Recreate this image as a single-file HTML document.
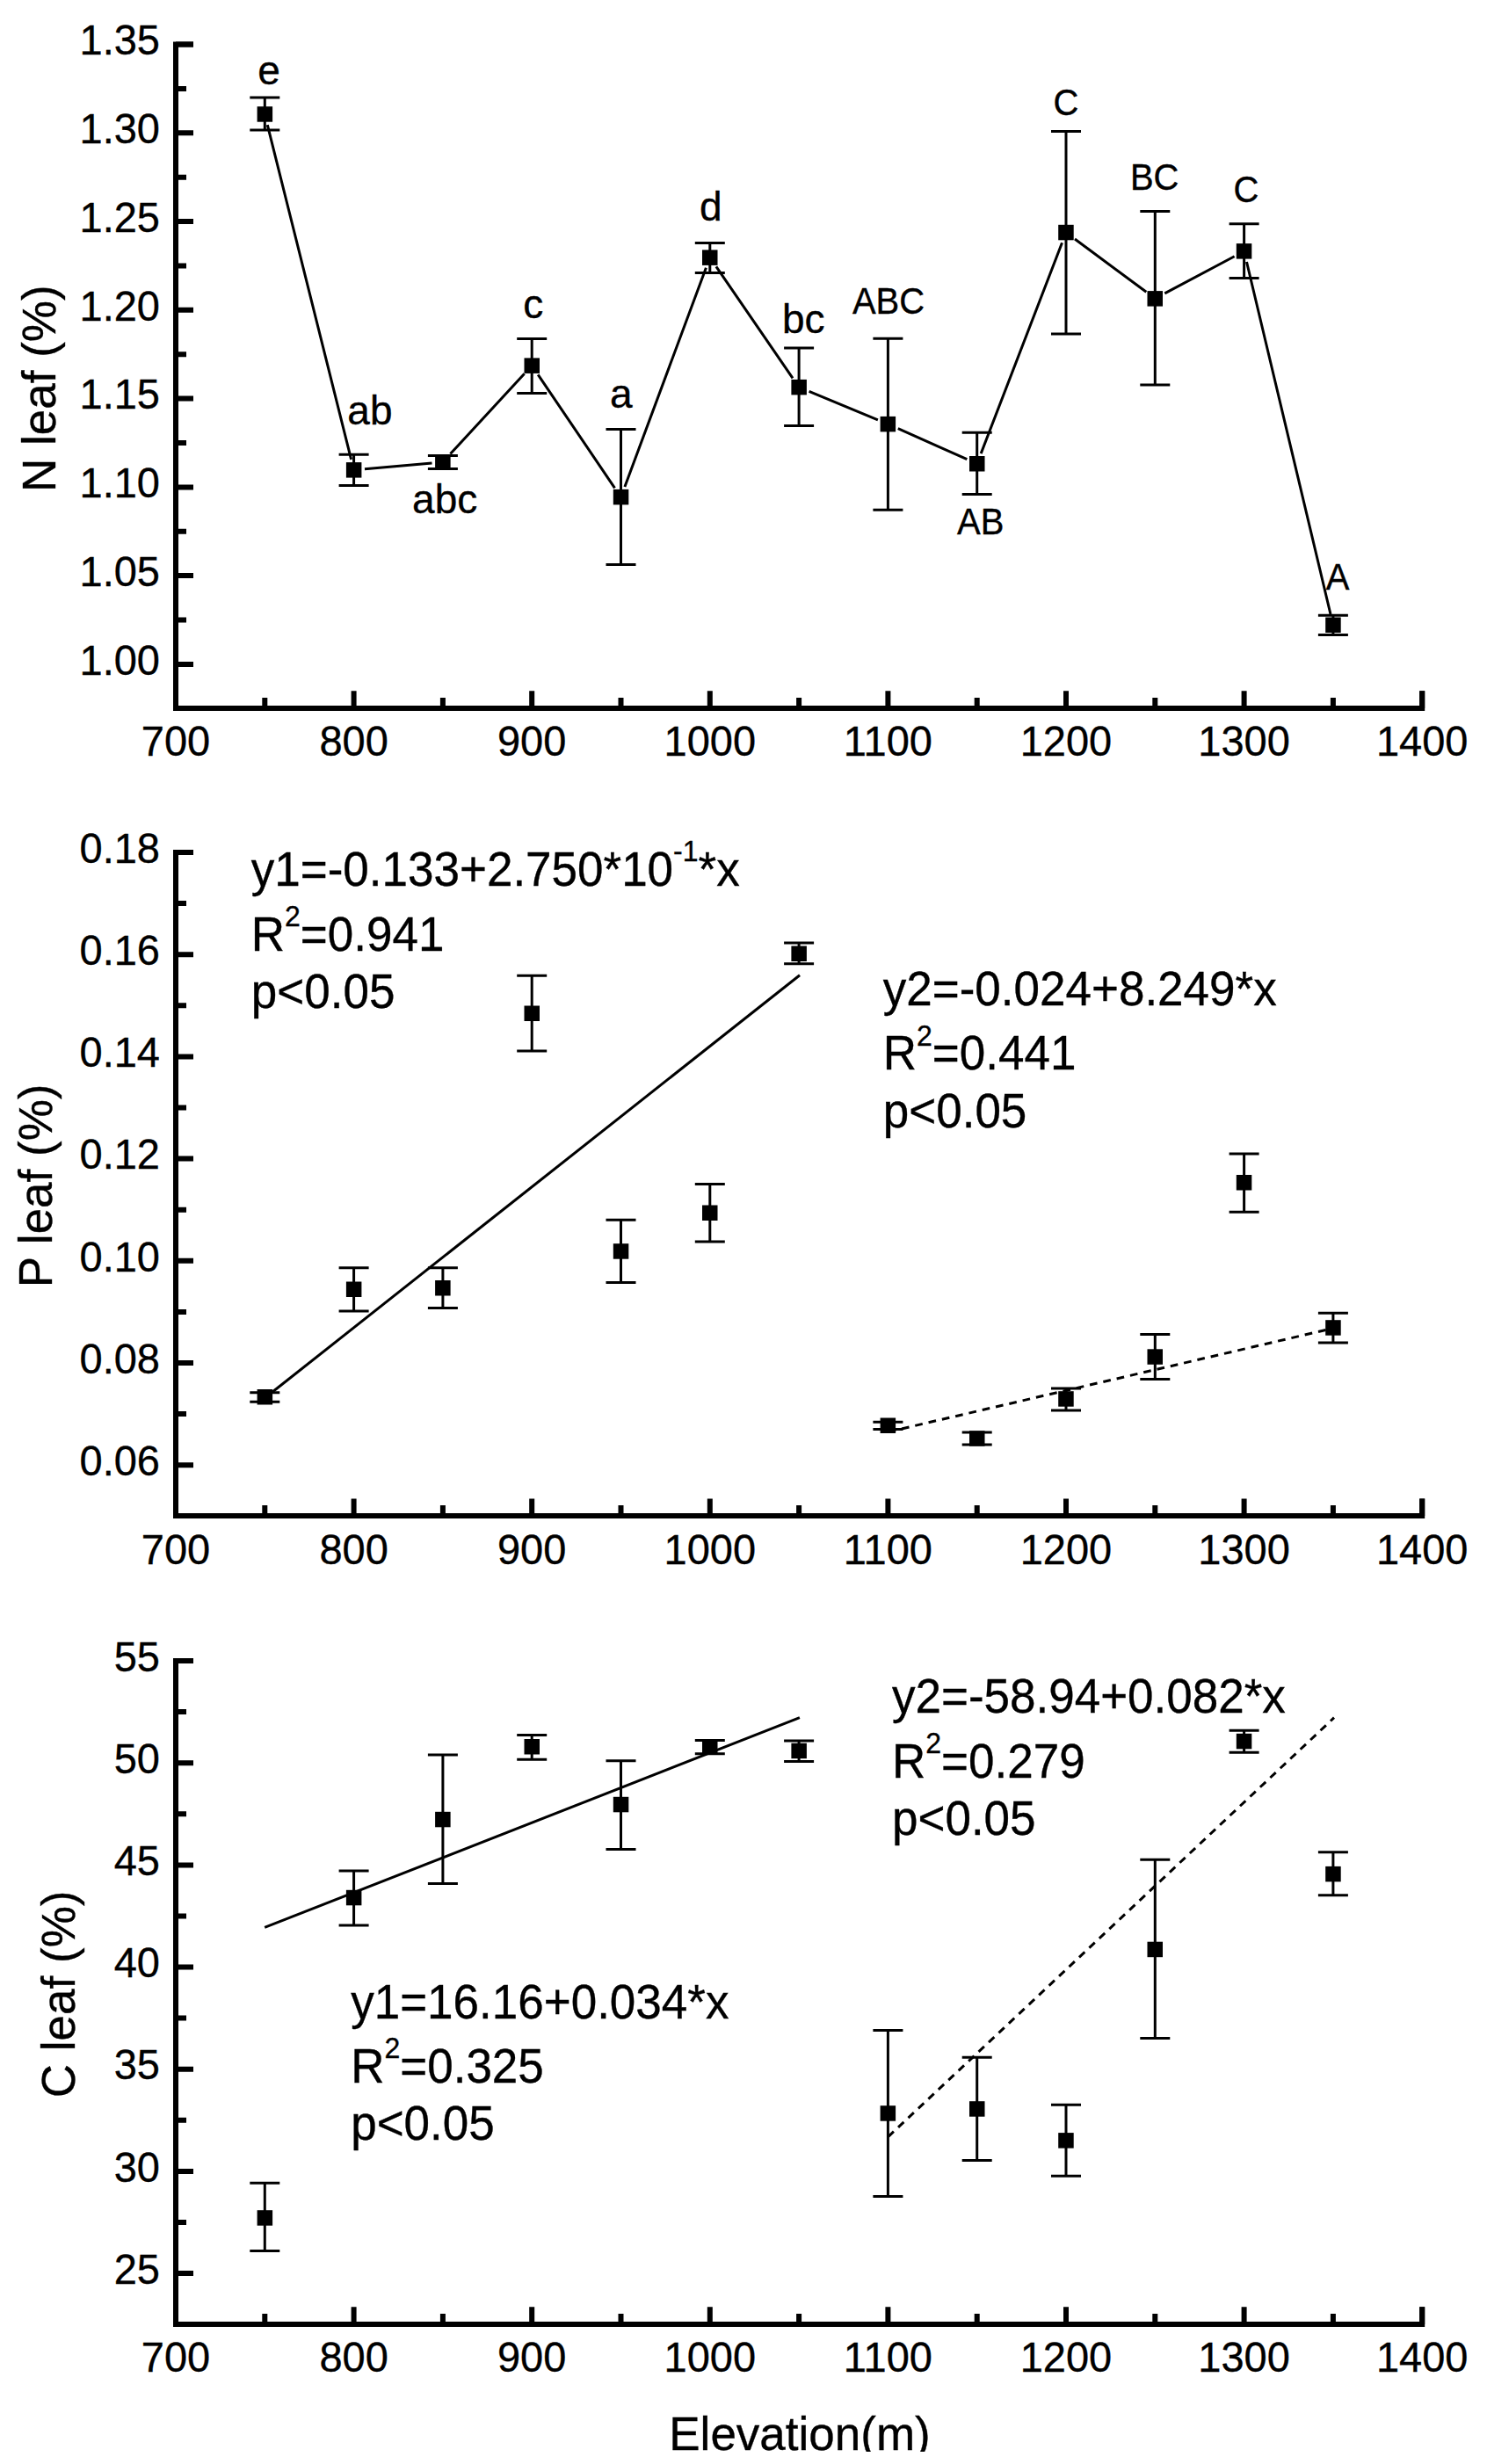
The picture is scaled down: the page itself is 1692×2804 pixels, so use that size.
<!DOCTYPE html><html><head><meta charset="utf-8"><title>Leaf N, P, C vs Elevation</title>
<style>html,body{margin:0;padding:0;background:#fff}svg{display:block}text{font-family:"Liberation Sans",sans-serif;fill:#000;stroke:#000;stroke-width:0.35px}</style></head><body>
<svg width="1692" height="2804" viewBox="0 0 1692 2804">
<rect width="1692" height="2804" fill="#fff"/>
<g fill="none" stroke="#000" stroke-width="6.0" stroke-linecap="butt" stroke-linejoin="miter">
<path d="M220,50.5 L200.0,50.5 L200.0,805.9 L1618.2,805.9 L1618.2,786.3"/>
<path d="M200.0,50.5H220M200.0,151.3H220M200.0,252.0H220M200.0,352.8H220M200.0,453.6H220M200.0,554.4H220M200.0,655.1H220M200.0,755.9H220M200.0,100.9H212M200.0,201.7H212M200.0,302.4H212M200.0,403.2H212M200.0,504.0H212M200.0,604.7H212M200.0,705.5H212M200.0,805.9V786.3M402.6,805.9V786.3M605.2,805.9V786.3M807.8,805.9V786.3M1010.4,805.9V786.3M1213.0,805.9V786.3M1415.6,805.9V786.3M1618.2,805.9V786.3M301.3,805.9V793.9M503.9,805.9V793.9M706.5,805.9V793.9M909.1,805.9V793.9M1111.7,805.9V793.9M1314.3,805.9V793.9M1516.9,805.9V793.9"/>
</g>
<g font-size="47" text-anchor="end">
<text x="182" y="62.3" transform="matrix(1 0 0 1.04 0 -2.492)">1.35</text>
<text x="182" y="163.1" transform="matrix(1 0 0 1.04 0 -6.523)">1.30</text>
<text x="182" y="263.8" transform="matrix(1 0 0 1.04 0 -10.554)">1.25</text>
<text x="182" y="364.6" transform="matrix(1 0 0 1.04 0 -14.585)">1.20</text>
<text x="182" y="465.4" transform="matrix(1 0 0 1.04 0 -18.616)">1.15</text>
<text x="182" y="566.2" transform="matrix(1 0 0 1.04 0 -22.646)">1.10</text>
<text x="182" y="666.9" transform="matrix(1 0 0 1.04 0 -26.677)">1.05</text>
<text x="182" y="767.7" transform="matrix(1 0 0 1.04 0 -30.708)">1.00</text>
</g>
<g font-size="47" text-anchor="middle">
<text x="200.0" y="860.5" transform="matrix(1 0 0 1.04 0 -34.420)">700</text>
<text x="402.6" y="860.5" transform="matrix(1 0 0 1.04 0 -34.420)">800</text>
<text x="605.2" y="860.5" transform="matrix(1 0 0 1.04 0 -34.420)">900</text>
<text x="807.8" y="860.5" transform="matrix(1 0 0 1.04 0 -34.420)">1000</text>
<text x="1010.4" y="860.5" transform="matrix(1 0 0 1.04 0 -34.420)">1100</text>
<text x="1213.0" y="860.5" transform="matrix(1 0 0 1.04 0 -34.420)">1200</text>
<text x="1415.6" y="860.5" transform="matrix(1 0 0 1.04 0 -34.420)">1300</text>
<text x="1618.2" y="860.5" transform="matrix(1 0 0 1.04 0 -34.420)">1400</text>
</g>
<path d="M304.3,142.1L399.6,522.8M415.0,533.8L491.5,526.9M512.4,516.6L596.7,425.3M612.2,426.4L699.5,555.3M710.9,553.9L803.4,304.8M814.9,303.4L902.0,430.3M920.6,445.4L998.9,477.8M1021.8,487.7L1100.3,522.7M1116.2,516.1L1208.5,276.2M1223.0,272.0L1304.3,332.3M1325.3,333.9L1404.6,291.7M1418.5,298.0L1514.0,699.0" fill="none" stroke="#000" stroke-width="3"/>
<path d="M301.3,111.0V148.0M284.3,111.0h34M284.3,148.0h34M402.6,517.2V552.5M385.6,517.2h34M385.6,552.5h34M503.9,518.5V533.4M486.9,518.5h34M486.9,533.4h34M605.2,385.6V447.4M588.2,385.6h34M588.2,447.4h34M706.5,488.6V642.6M689.5,488.6h34M689.5,642.6h34M807.8,276.5V310.4M790.8,276.5h34M790.8,310.4h34M909.1,395.9V484.4M892.1,395.9h34M892.1,484.4h34M1010.4,385.3V580.3M993.4,385.3h34M993.4,580.3h34M1111.7,492.2V562.4M1094.7,492.2h34M1094.7,562.4h34M1213.0,149.6V380.1M1196.0,149.6h34M1196.0,380.1h34M1314.3,240.4V438.1M1297.3,240.4h34M1297.3,438.1h34M1415.6,254.7V316.5M1398.6,254.7h34M1398.6,316.5h34M1516.9,700.3V722.4M1499.9,700.3h34M1499.9,722.4h34" fill="none" stroke="#000" stroke-width="3.0"/>
<rect x="292.6" y="121.2" width="17.5" height="17.5" fill="#000"/>
<rect x="393.9" y="526.1" width="17.5" height="17.5" fill="#000"/>
<rect x="495.1" y="517.0" width="17.5" height="17.5" fill="#000"/>
<rect x="596.5" y="407.4" width="17.5" height="17.5" fill="#000"/>
<rect x="697.8" y="556.9" width="17.5" height="17.5" fill="#000"/>
<rect x="799.0" y="284.4" width="17.5" height="17.5" fill="#000"/>
<rect x="900.4" y="431.9" width="17.5" height="17.5" fill="#000"/>
<rect x="1001.6" y="473.9" width="17.5" height="17.5" fill="#000"/>
<rect x="1103.0" y="519.0" width="17.5" height="17.5" fill="#000"/>
<rect x="1204.2" y="255.8" width="17.5" height="17.5" fill="#000"/>
<rect x="1305.5" y="331.1" width="17.5" height="17.5" fill="#000"/>
<rect x="1406.8" y="277.1" width="17.5" height="17.5" fill="#000"/>
<rect x="1508.2" y="702.5" width="17.5" height="17.5" fill="#000"/>
<g text-anchor="middle">
<text x="306" y="96.3" font-size="46" >e</text>
<text x="420.9" y="482.6" font-size="46" >ab</text>
<text x="506.2" y="584.3" font-size="46" >abc</text>
<text x="606.7" y="362.1" font-size="46" >c</text>
<text x="706.9" y="464.2" font-size="46" >a</text>
<text x="808.9" y="250.7" font-size="46" >d</text>
<text x="914.3" y="379.2" font-size="46" >bc</text>
<text x="1011" y="356.6" font-size="40" transform="matrix(1 0 0 1.04 0 -14.264)">ABC</text>
<text x="1115.7" y="608.2" font-size="40" transform="matrix(1 0 0 1.04 0 -24.328)">AB</text>
<text x="1212.9" y="130.8" font-size="40" transform="matrix(1 0 0 1.04 0 -5.232)">C</text>
<text x="1313.7" y="215.9" font-size="40" transform="matrix(1 0 0 1.04 0 -8.636)">BC</text>
<text x="1418" y="230.2" font-size="40" transform="matrix(1 0 0 1.04 0 -9.208)">C</text>
<text x="1522" y="671.5" font-size="40" transform="matrix(1 0 0 1.04 0 -26.860)">A</text>
</g>
<text font-size="53" text-anchor="middle" transform="translate(62.9,442.2) rotate(-90)">N leaf (%)</text>
<g fill="none" stroke="#000" stroke-width="6.0" stroke-linecap="butt" stroke-linejoin="miter">
<path d="M220,970.0 L200.0,970.0 L200.0,1725.0 L1618.2,1725.0 L1618.2,1705.4"/>
<path d="M200.0,970.0H220M200.0,1086.2H220M200.0,1202.4H220M200.0,1318.6H220M200.0,1434.8H220M200.0,1551.0H220M200.0,1667.2H220M200.0,1028.1H212M200.0,1144.3H212M200.0,1260.5H212M200.0,1376.7H212M200.0,1492.9H212M200.0,1609.1H212M200.0,1725.0V1705.4M402.6,1725.0V1705.4M605.2,1725.0V1705.4M807.8,1725.0V1705.4M1010.4,1725.0V1705.4M1213.0,1725.0V1705.4M1415.6,1725.0V1705.4M1618.2,1725.0V1705.4M301.3,1725.0V1713.0M503.9,1725.0V1713.0M706.5,1725.0V1713.0M909.1,1725.0V1713.0M1111.7,1725.0V1713.0M1314.3,1725.0V1713.0M1516.9,1725.0V1713.0"/>
</g>
<g font-size="47" text-anchor="end">
<text x="182" y="981.8" transform="matrix(1 0 0 1.04 0 -39.272)">0.18</text>
<text x="182" y="1098.0" transform="matrix(1 0 0 1.04 0 -43.920)">0.16</text>
<text x="182" y="1214.2" transform="matrix(1 0 0 1.04 0 -48.568)">0.14</text>
<text x="182" y="1330.4" transform="matrix(1 0 0 1.04 0 -53.216)">0.12</text>
<text x="182" y="1446.6" transform="matrix(1 0 0 1.04 0 -57.864)">0.10</text>
<text x="182" y="1562.8" transform="matrix(1 0 0 1.04 0 -62.512)">0.08</text>
<text x="182" y="1679.0" transform="matrix(1 0 0 1.04 0 -67.160)">0.06</text>
</g>
<g font-size="47" text-anchor="middle">
<text x="200.0" y="1779.6" transform="matrix(1 0 0 1.04 0 -71.184)">700</text>
<text x="402.6" y="1779.6" transform="matrix(1 0 0 1.04 0 -71.184)">800</text>
<text x="605.2" y="1779.6" transform="matrix(1 0 0 1.04 0 -71.184)">900</text>
<text x="807.8" y="1779.6" transform="matrix(1 0 0 1.04 0 -71.184)">1000</text>
<text x="1010.4" y="1779.6" transform="matrix(1 0 0 1.04 0 -71.184)">1100</text>
<text x="1213.0" y="1779.6" transform="matrix(1 0 0 1.04 0 -71.184)">1200</text>
<text x="1415.6" y="1779.6" transform="matrix(1 0 0 1.04 0 -71.184)">1300</text>
<text x="1618.2" y="1779.6" transform="matrix(1 0 0 1.04 0 -71.184)">1400</text>
</g>
<path d="M301.8,1590.5L910,1109.8" stroke="#000" stroke-width="3" fill="none"/>
<path d="M1010.7,1629.5L1517,1511.5" stroke="#000" stroke-width="3" fill="none" stroke-dasharray="8.7 7"/>
<path d="M301.3,1584.8V1595.3M284.3,1584.8h34M284.3,1595.3h34M402.6,1442.8V1492.1M385.6,1442.8h34M385.6,1492.1h34M503.9,1442.8V1488.4M486.9,1442.8h34M486.9,1488.4h34M605.2,1110.3V1196.1M588.2,1110.3h34M588.2,1196.1h34M706.5,1388.2V1459.4M689.5,1388.2h34M689.5,1459.4h34M807.8,1347.5V1413.0M790.8,1347.5h34M790.8,1413.0h34M909.1,1072.9V1096.7M892.1,1072.9h34M892.1,1096.7h34M1010.4,1618.2V1626.6M993.4,1618.2h34M993.4,1626.6h34M1111.7,1630.0V1644.1M1094.7,1630.0h34M1094.7,1644.1h34M1213.0,1580.1V1605.0M1196.0,1580.1h34M1196.0,1605.0h34M1314.3,1518.5V1569.4M1297.3,1518.5h34M1297.3,1569.4h34M1415.6,1312.9V1379.2M1398.6,1312.9h34M1398.6,1379.2h34M1516.9,1494.3V1528.1M1499.9,1494.3h34M1499.9,1528.1h34" fill="none" stroke="#000" stroke-width="3.0"/>
<rect x="292.6" y="1581.0" width="17.5" height="17.5" fill="#000"/>
<rect x="393.9" y="1458.5" width="17.5" height="17.5" fill="#000"/>
<rect x="495.1" y="1457.0" width="17.5" height="17.5" fill="#000"/>
<rect x="596.5" y="1144.5" width="17.5" height="17.5" fill="#000"/>
<rect x="697.8" y="1415.2" width="17.5" height="17.5" fill="#000"/>
<rect x="799.0" y="1371.5" width="17.5" height="17.5" fill="#000"/>
<rect x="900.4" y="1076.5" width="17.5" height="17.5" fill="#000"/>
<rect x="1001.6" y="1613.5" width="17.5" height="17.5" fill="#000"/>
<rect x="1103.0" y="1628.2" width="17.5" height="17.5" fill="#000"/>
<rect x="1204.2" y="1583.2" width="17.5" height="17.5" fill="#000"/>
<rect x="1305.5" y="1535.3" width="17.5" height="17.5" fill="#000"/>
<rect x="1406.8" y="1337.0" width="17.5" height="17.5" fill="#000"/>
<rect x="1508.2" y="1502.2" width="17.5" height="17.5" fill="#000"/>
<g font-size="53">
<text x="285.8" y="1007.6" transform="matrix(1 0 0 1.04 0 -40.304)">y1=-0.133+2.750*10<tspan font-size="32" dy="-26.4">-1</tspan><tspan dy="26.4">*x</tspan></text>
<text x="285.8" y="1081.8" transform="matrix(1 0 0 1.04 0 -43.272)">R<tspan font-size="32" dy="-26.4">2</tspan><tspan dy="26.4">=0.941</tspan></text>
<text x="285.8" y="1146.7" transform="matrix(1 0 0 1.04 0 -45.868)">p&lt;0.05</text>
</g>
<g font-size="53">
<text x="1004.8" y="1144.4" transform="matrix(1 0 0 1.04 0 -45.776)">y2=-0.024+8.249*x</text>
<text x="1004.8" y="1217.4" transform="matrix(1 0 0 1.04 0 -48.696)">R<tspan font-size="32" dy="-26.4">2</tspan><tspan dy="26.4">=0.441</tspan></text>
<text x="1004.8" y="1283" transform="matrix(1 0 0 1.04 0 -51.320)">p&lt;0.05</text>
</g>
<text font-size="53" text-anchor="middle" transform="translate(58.8,1349.4) rotate(-90)">P leaf (%)</text>
<g fill="none" stroke="#000" stroke-width="6.0" stroke-linecap="butt" stroke-linejoin="miter">
<path d="M220,1890.0 L200.0,1890.0 L200.0,2644.9 L1618.2,2644.9 L1618.2,2625.3"/>
<path d="M200.0,1890.0H220M200.0,2006.2H220M200.0,2122.4H220M200.0,2238.5H220M200.0,2354.7H220M200.0,2470.9H220M200.0,2587.1H220M200.0,1948.1H212M200.0,2064.3H212M200.0,2180.5H212M200.0,2296.6H212M200.0,2412.8H212M200.0,2529.0H212M200.0,2644.9V2625.3M402.6,2644.9V2625.3M605.2,2644.9V2625.3M807.8,2644.9V2625.3M1010.4,2644.9V2625.3M1213.0,2644.9V2625.3M1415.6,2644.9V2625.3M1618.2,2644.9V2625.3M301.3,2644.9V2632.9M503.9,2644.9V2632.9M706.5,2644.9V2632.9M909.1,2644.9V2632.9M1111.7,2644.9V2632.9M1314.3,2644.9V2632.9M1516.9,2644.9V2632.9"/>
</g>
<g font-size="47" text-anchor="end">
<text x="182" y="1901.8" transform="matrix(1 0 0 1.04 0 -76.072)">55</text>
<text x="182" y="2018.0" transform="matrix(1 0 0 1.04 0 -80.719)">50</text>
<text x="182" y="2134.2" transform="matrix(1 0 0 1.04 0 -85.366)">45</text>
<text x="182" y="2250.3" transform="matrix(1 0 0 1.04 0 -90.014)">40</text>
<text x="182" y="2366.5" transform="matrix(1 0 0 1.04 0 -94.661)">35</text>
<text x="182" y="2482.7" transform="matrix(1 0 0 1.04 0 -99.309)">30</text>
<text x="182" y="2598.9" transform="matrix(1 0 0 1.04 0 -103.956)">25</text>
</g>
<g font-size="47" text-anchor="middle">
<text x="200.0" y="2699.5" transform="matrix(1 0 0 1.04 0 -107.980)">700</text>
<text x="402.6" y="2699.5" transform="matrix(1 0 0 1.04 0 -107.980)">800</text>
<text x="605.2" y="2699.5" transform="matrix(1 0 0 1.04 0 -107.980)">900</text>
<text x="807.8" y="2699.5" transform="matrix(1 0 0 1.04 0 -107.980)">1000</text>
<text x="1010.4" y="2699.5" transform="matrix(1 0 0 1.04 0 -107.980)">1100</text>
<text x="1213.0" y="2699.5" transform="matrix(1 0 0 1.04 0 -107.980)">1200</text>
<text x="1415.6" y="2699.5" transform="matrix(1 0 0 1.04 0 -107.980)">1300</text>
<text x="1618.2" y="2699.5" transform="matrix(1 0 0 1.04 0 -107.980)">1400</text>
</g>
<path d="M301.2,2193.4L909.9,1954.7" stroke="#000" stroke-width="3" fill="none"/>
<path d="M1010.6,2431.6L1518,1954.7" stroke="#000" stroke-width="3" fill="none" stroke-dasharray="8.7 7"/>
<path d="M301.3,2484.3V2561.5M284.3,2484.3h34M284.3,2561.5h34M402.6,2128.9V2191.0M385.6,2128.9h34M385.6,2191.0h34M503.9,1997.1V2143.5M486.9,1997.1h34M486.9,2143.5h34M605.2,1974.5V2002.3M588.2,1974.5h34M588.2,2002.3h34M706.5,2003.7V2104.4M689.5,2003.7h34M689.5,2104.4h34M807.8,1980.6V1995.7M790.8,1980.6h34M790.8,1995.7h34M909.1,1981.1V2004.6M892.1,1981.1h34M892.1,2004.6h34M1010.4,2310.6V2499.4M993.4,2310.6h34M993.4,2499.4h34M1111.7,2341.2V2458.4M1094.7,2341.2h34M1094.7,2458.4h34M1213.0,2395.3V2476.3M1196.0,2395.3h34M1196.0,2476.3h34M1314.3,2116.2V2319.6M1297.3,2116.2h34M1297.3,2319.6h34M1415.6,1969.3V1994.3M1398.6,1969.3h34M1398.6,1994.3h34M1516.9,2107.7V2156.7M1499.9,2107.7h34M1499.9,2156.7h34" fill="none" stroke="#000" stroke-width="3.0"/>
<rect x="292.6" y="2515.2" width="17.5" height="17.5" fill="#000"/>
<rect x="393.9" y="2150.8" width="17.5" height="17.5" fill="#000"/>
<rect x="495.1" y="2061.8" width="17.5" height="17.5" fill="#000"/>
<rect x="596.5" y="1979.0" width="17.5" height="17.5" fill="#000"/>
<rect x="697.8" y="2044.8" width="17.5" height="17.5" fill="#000"/>
<rect x="799.0" y="1979.5" width="17.5" height="17.5" fill="#000"/>
<rect x="900.4" y="1983.7" width="17.5" height="17.5" fill="#000"/>
<rect x="1001.6" y="2396.2" width="17.5" height="17.5" fill="#000"/>
<rect x="1103.0" y="2391.2" width="17.5" height="17.5" fill="#000"/>
<rect x="1204.2" y="2427.1" width="17.5" height="17.5" fill="#000"/>
<rect x="1305.5" y="2209.7" width="17.5" height="17.5" fill="#000"/>
<rect x="1406.8" y="1972.8" width="17.5" height="17.5" fill="#000"/>
<rect x="1508.2" y="2123.9" width="17.5" height="17.5" fill="#000"/>
<g font-size="53">
<text x="399.2" y="2296.6" transform="matrix(1 0 0 1.04 0 -91.864)">y1=16.16+0.034*x</text>
<text x="399.2" y="2369.8" transform="matrix(1 0 0 1.04 0 -94.792)">R<tspan font-size="32" dy="-26.4">2</tspan><tspan dy="26.4">=0.325</tspan></text>
<text x="399.2" y="2435.4" transform="matrix(1 0 0 1.04 0 -97.416)">p&lt;0.05</text>
</g>
<g font-size="53">
<text x="1015" y="1949" transform="matrix(1 0 0 1.04 0 -77.960)">y2=-58.94+0.082*x</text>
<text x="1015" y="2022.7" transform="matrix(1 0 0 1.04 0 -80.908)">R<tspan font-size="32" dy="-26.4">2</tspan><tspan dy="26.4">=0.279</tspan></text>
<text x="1015" y="2087.9" transform="matrix(1 0 0 1.04 0 -83.516)">p&lt;0.05</text>
</g>
<text font-size="53" text-anchor="middle" transform="translate(85.2,2269.4) rotate(-90)">C leaf (%)</text>
<text x="910" y="2788.4" font-size="53" text-anchor="middle">Elevation(m)</text>
<rect x="700" y="2790" width="420" height="14" fill="#fff"/>
</svg></body></html>
